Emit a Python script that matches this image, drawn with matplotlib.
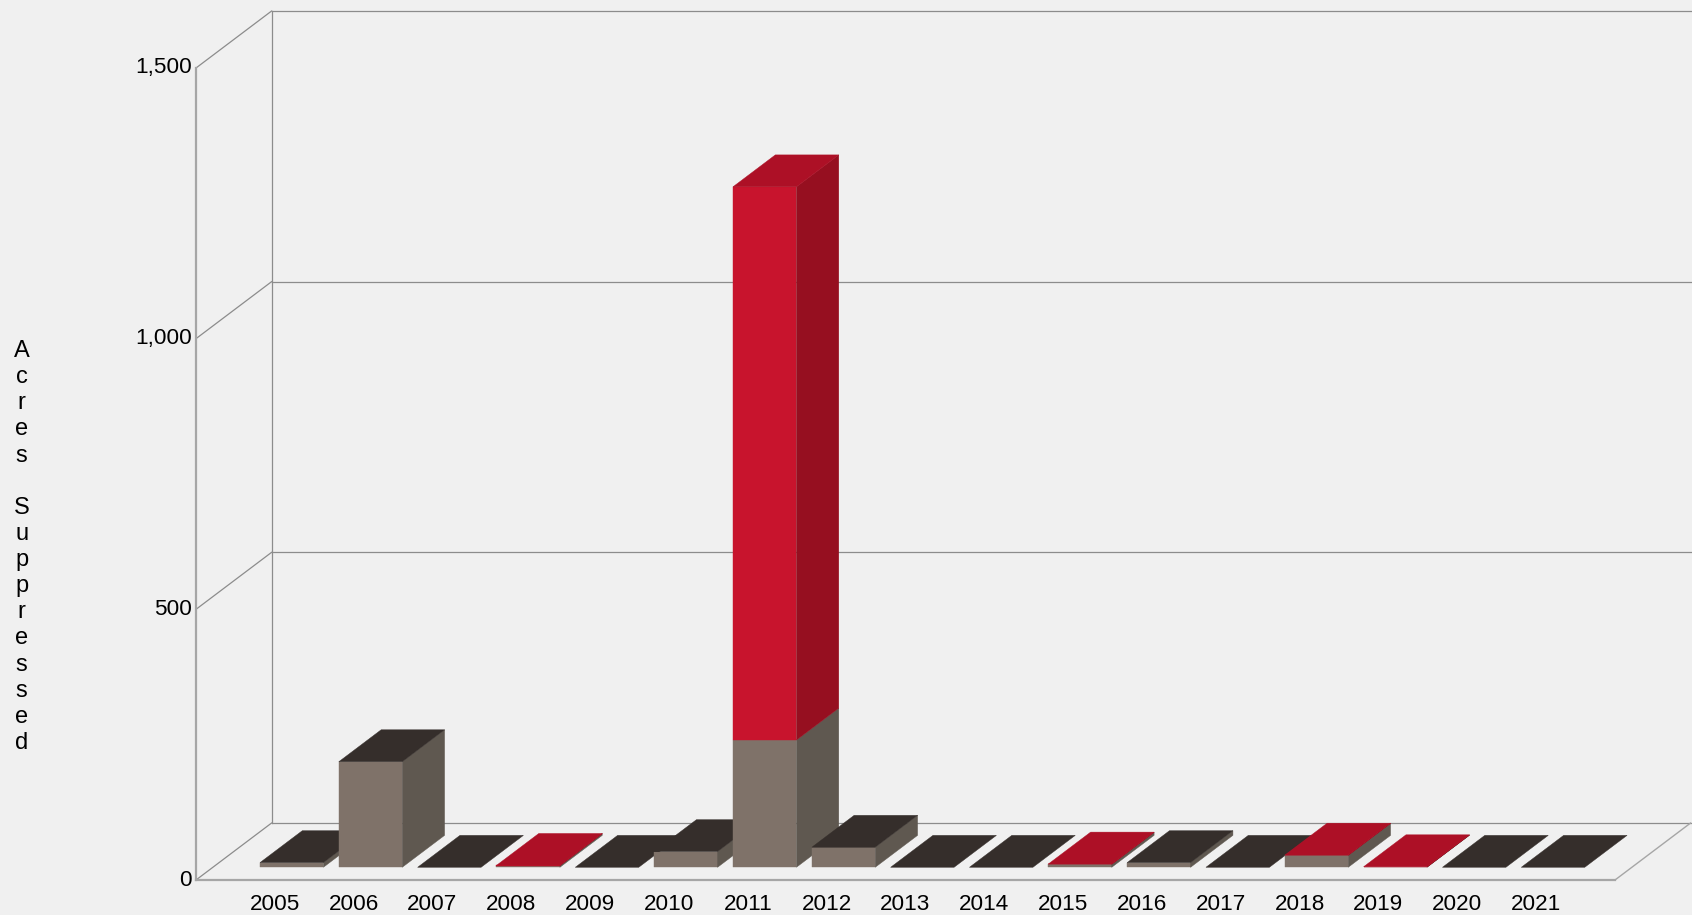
import matplotlib
matplotlib.use("Agg")
import matplotlib.pyplot as plt
from matplotlib.patches import Polygon
from matplotlib.transforms import ScaledTranslation

plt.rcParams['font.family'] = ['Liberation Sans', 'DejaVu Sans']

years = [2005, 2006, 2007, 2008, 2009, 2010, 2011, 2012, 2013, 2014, 2015, 2016, 2017, 2018, 2019, 2020, 2021]
gray_vals = [8.6, 195, 0, 3, 0, 29, 235, 37, 0, 0, 5.5, 8.6, 0, 22, 0.5, 0, 0]
red_vals = [0, 0, 0, 0.5, 0, 0, 1022, 0, 0, 0, 0.5, 0, 0, 0.5, 0.5, 0, 0]
y_ticks = [0, 500, 1000, 1500]

# colours
BG = "#f0f0f0"
GRID = "#8c8c8c"
FRONT_AXIS = "#a6a6a6"
gray_c = {"front": "#7f7269", "side": "#5f5850", "top": "#352e2b"}
red_c = {"front": "#c8142d", "side": "#960f20", "top": "#ad1026"}

# oblique projection: how far the back wall sits from the front plane
DEPTH_X = 0.958   # category units
DEPTH_Y = 105.2   # value units
BAR_W = 0.805
D0, D1 = 0.223, 0.784  # bar front / back as a fraction of the depth

W, H = 1692, 915
fig = plt.figure(figsize=(W / 100, H / 100), dpi=100, facecolor=BG)
ax = fig.add_axes([196 / W, (H - 880) / H, (1615 - 196) / W, (880 - 68) / H])
ax.set_facecolor("none")
ax.set_xlim(0, 18)
ax.set_ylim(0, 1500)
for s in ax.spines.values():
    s.set_visible(False)


def proj(x, v, d):
    return (x + d * DEPTH_X, v + d * DEPTH_Y)


def face(pts, color, z):
    ax.add_patch(Polygon(pts, closed=True, facecolor=color, edgecolor=color,
                         linewidth=0.3, clip_on=False, zorder=z))


# walls and grid
far_x = 18 + 2 * DEPTH_X
for v in y_ticks:
    x0, y0 = proj(0, v, 0)
    x1, y1 = proj(0, v, 1)
    ax.plot([x0, x1], [y0, y1], color=GRID, lw=0.9, clip_on=False, zorder=1)
    ax.plot([x1, far_x], [y1, y1], color=GRID, lw=0.9, clip_on=False, zorder=1)
ax.plot([DEPTH_X, DEPTH_X], [DEPTH_Y, 1500 + DEPTH_Y], color=GRID, lw=0.9, clip_on=False, zorder=1)
ax.plot([0, 0], [0, 1500], color=FRONT_AXIS, lw=1.6, clip_on=False, zorder=1)
ax.plot([0, 18], [0, 0], color=FRONT_AXIS, lw=1.6, clip_on=False, zorder=1)
ax.plot([18, 18 + DEPTH_X], [0, DEPTH_Y], color=FRONT_AXIS, lw=1.0, clip_on=False, zorder=1)

# stacked bars, painted left to right so each one covers its left neighbour
for i, (g, r) in enumerate(zip(gray_vals, red_vals)):
    c = i + 1
    xl, xr = c - BAR_W / 2, c + BAR_W / 2
    z = 3 + i
    for lo, hi, col in [(0, g, gray_c), (g, g + r, red_c)]:
        if hi <= lo:
            continue
        face([proj(xl, lo, D0), proj(xr, lo, D0), proj(xr, hi, D0), proj(xl, hi, D0)], col["front"], z)
        face([proj(xr, lo, D0), proj(xr, lo, D1), proj(xr, hi, D1), proj(xr, hi, D0)], col["side"], z)
    top = g + r
    top_c = red_c["top"] if r > 0 else gray_c["top"]
    face([proj(xl, top, D0), proj(xr, top, D0), proj(xr, top, D1), proj(xl, top, D1)], top_c, z)

ax.set_xticks(range(1, len(years) + 1))
ax.set_xticklabels([str(y) for y in years])
ax.set_yticks(y_ticks)
ax.set_yticklabels([f"{v:,}" for v in y_ticks])
ax.tick_params(axis="x", length=0, pad=10, labelsize=16.2, labelcolor="black")
ax.tick_params(axis="y", length=0, pad=3, labelsize=16.2, labelcolor="black")

# the y labels sit a little above their grid lines
up = ScaledTranslation(0, 2.5 / 100, fig.dpi_scale_trans)
for t in ax.get_yticklabels():
    t.set_transform(t.get_transform() + up)

# stacked letters, one per line
label = "Acres Suppressed"
fig.text(21.6 / W, (H - 547) / H, "\n".join(label), ha="center", va="center", ma="center",
         fontsize=17, linespacing=1.243, color="black")

fig.savefig("out.png", dpi=100, facecolor=BG)
